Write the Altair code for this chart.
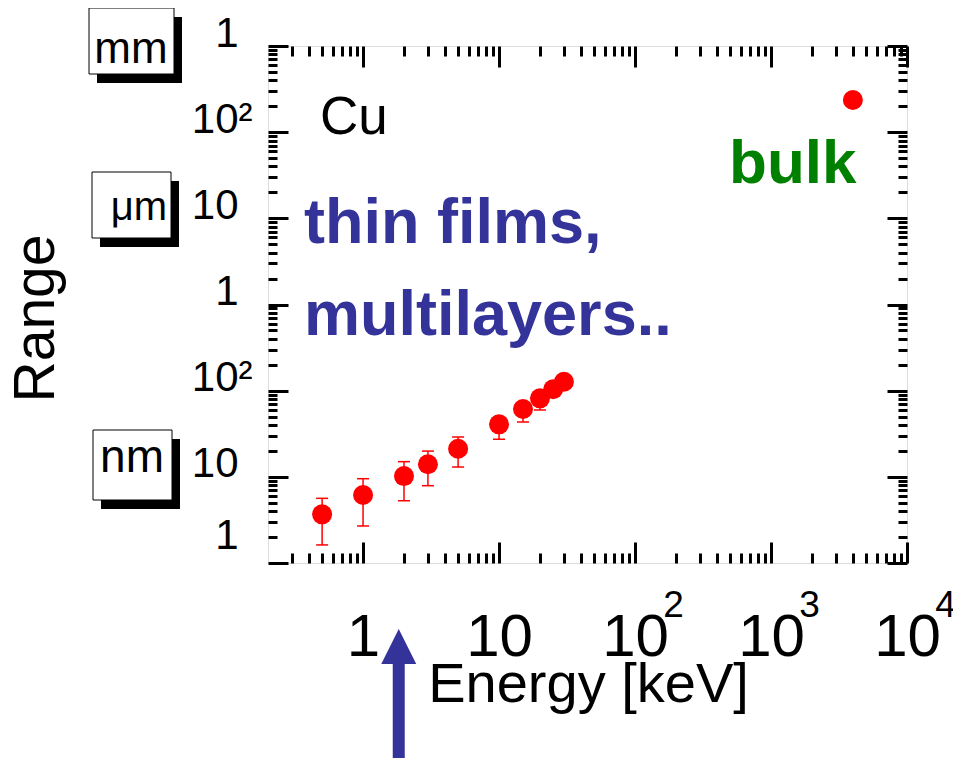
import altair as alt
import pandas as pd

# ---------------- data ----------------
energy = [0.5, 1, 2, 3, 5, 10, 15, 20, 25, 30]          # keV
rng = [3.67, 6.15, 10.2, 14.0, 21.2, 40.7, 61.2, 81.5, 104, 127]   # nm
rng_lo = [1.62, 2.69, 5.28, 7.89, 13.0, 27.3, 43.3, 59.7, 88, 110]
rng_hi = [5.63, 9.51, 15.0, 19.9, 29.0, 48, 70, 95, 118, 140]

bulk_energy = [4000]
bulk_range = [236000]

x_major = [1, 10, 100, 1000, 10000]
x_base = ["1", "10", "10", "10", "10"]
x_exp = ["", "", "2", "3", "4"]

y_major = [1, 10, 100, 1000, 10000, 100000, 1000000]
y_labels = ["1", "10", "10\u00b2", "1", "10", "10\u00b2", "1"]

arrow_energy = [1.83]

FONT = "Liberation Sans"
BLUE = "#333399"
GREEN = "#008000"

x_minor = [round(d * m, 4) for d in [0.1, 1, 10, 100, 1000] for m in range(2, 10) if d * m >= 0.3]
y_minor = [d * m for d in [1, 10, 100, 1000, 10000, 100000] for m in range(2, 10)]

xs = alt.Scale(type="log", domain=[0.2, 10000], nice=False)
ys = alt.Scale(type="log", domain=[1, 1000000], nice=False)

df = pd.DataFrame({"energy": energy, "range": rng, "lo": rng_lo, "hi": rng_hi})
bulk_df = pd.DataFrame({"energy": bulk_energy, "range": bulk_range})


def tick_axis(orient, values, size):
    return alt.Axis(orient=orient, values=values, tickSize=alt.ExprRef(expr=f"-{size}"),
                    tickWidth=3, tickColor="black", labels=False, domain=False,
                    grid=False, title=None)


def lab_expr(values, labels):
    parts = " : ".join(f"datum.value == {v} ? '{l}'" for v, l in zip(values, labels))
    return parts + " : ''"


# error bars
rules = alt.Chart(df).mark_rule(color="red", strokeWidth=1.5).encode(
    x=alt.X("energy:Q", scale=xs, axis=tick_axis("bottom", x_minor, 10)),
    y=alt.Y("lo:Q", scale=ys, axis=tick_axis("left", y_minor, 9)),
    y2="hi:Q",
)
caps_lo = alt.Chart(df).mark_tick(orient="horizontal", size=12, thickness=1.5, color="red", opacity=1).encode(
    x=alt.X("energy:Q", scale=xs, axis=tick_axis("bottom", x_major, 21)),
    y=alt.Y("lo:Q", scale=ys, axis=tick_axis("left", y_major, 20)),
)
caps_hi = alt.Chart(df).mark_tick(orient="horizontal", size=12, thickness=1.5, color="red", opacity=1).encode(
    x=alt.X("energy:Q", scale=xs, axis=tick_axis("top", x_minor, 10)),
    y=alt.Y("hi:Q", scale=ys, axis=tick_axis("right", y_minor, 9)),
)
points = alt.Chart(df).mark_circle(size=400, color="red", opacity=1).encode(
    x=alt.X("energy:Q", scale=xs, axis=tick_axis("top", x_major, 21)),
    y=alt.Y("range:Q", scale=ys, axis=tick_axis("right", y_major, 20)),
)
bulk = alt.Chart(bulk_df).mark_circle(size=400, color="red", opacity=1).encode(
    x=alt.X("energy:Q", scale=xs, axis=alt.Axis(
        orient="bottom", values=x_major, labelExpr=lab_expr(x_major, x_base),
        ticks=False, domain=False, grid=False, labelFont=FONT, labelFontSize=60,
        labelColor="black", labelPadding=92, labelBaseline="alphabetic",
        labelFlush=False, labelOverlap=False,
        title="Energy [keV]", titleFont=FONT, titleFontSize=56, titleFontWeight="normal",
        titleColor="black", titleX=320, titleY=138, titleAlign="center",
        titleBaseline="alphabetic")),
    y=alt.Y("range:Q", scale=ys, axis=alt.Axis(
        orient="left", values=y_major, labelExpr=lab_expr(y_major, y_labels),
        ticks=False, domain=False, grid=False, labelFont=FONT, labelFontSize=42,
        labelColor="black", labelAlign="right", labelBaseline="alphabetic",
        labelPadding={"condition": {"test": "datum.value == 100 || datum.value == 100000", "value": 16}, "value": 30},
        labelOffset={"condition": {"test": "datum.value == 1", "value": -15}, "value": 0},
        labelFlush=False, labelOverlap=False,
        title="Range", titleFont=FONT, titleFontSize=57, titleFontWeight="normal",
        titleColor="black", titleAngle=270, titleX=-215, titleY=272, titleAlign="center",
        titleBaseline="alphabetic")),
)
exp_layer = alt.Chart(bulk_df).mark_circle(size=0, opacity=0).encode(
    x=alt.X("energy:Q", scale=xs, axis=alt.Axis(
        orient="bottom", values=x_major, labelExpr=lab_expr(x_major, x_exp),
        ticks=False, domain=False, grid=False, labelFont=FONT, labelFontSize=37,
        labelColor="black", labelPadding=53, labelBaseline="alphabetic", labelOffset=38,
        labelFlush=False, labelOverlap=False, title=None)),
    y=alt.Y("range:Q", scale=ys, axis=None),
)

# annotations
def note(text, x, y, size, color, weight="normal"):
    d = pd.DataFrame({"energy": [x], "range": [y], "t": [text]})
    return alt.Chart(d).mark_text(font=FONT, fontSize=size, color=color, fontWeight=weight,
                                  align="left", baseline="alphabetic").encode(
        x=alt.X("energy:Q", scale=xs, axis=None),
        y=alt.Y("range:Q", scale=ys, axis=None),
        text="t:N",
    )

notes = [
    note("Cu", 0.483, 95200, 53, "black"),
    note("thin films,", 0.368, 5170, 63, BLUE, "bold"),
    note("multilayers..", 0.368, 443, 63, BLUE, "bold"),
    note("bulk", 491, 25700, 62, GREEN, "bold"),
]

# unit boxes (outside the plot, left of the y labels)
dummy = pd.DataFrame({"a": [0]})
boxes = []
for label, (bx1, bx2, by1, by2), tx, ty, fs in [
    ("mm", (-179, -94, -38, 28), -137, 17, 44),
    ("\u03bcm", (-176, -97, 126, 192), -129, 174, 40),
    ("nm", (-175, -96, 384, 454), -136, 426, 46),
]:
    boxes.append(alt.Chart(dummy).mark_rect(color="black").encode(
        x=alt.value(bx1 + 8), x2=alt.value(bx2 + 8), y=alt.value(by1 + 9), y2=alt.value(by2 + 9)))
    boxes.append(alt.Chart(dummy).mark_rect(fill="white", stroke="black", strokeWidth=1).encode(
        x=alt.value(bx1), x2=alt.value(bx2), y=alt.value(by1), y2=alt.value(by2)))
    boxes.append(alt.Chart(dummy).mark_text(text=label, font=FONT, fontSize=fs, color="black",
                                            align="center", baseline="alphabetic").encode(
        x=alt.value(tx), y=alt.value(ty)))

# arrow below the x axis
arrow_df = pd.DataFrame({"energy": arrow_energy})
shaft = alt.Chart(arrow_df).mark_rule(color=BLUE, strokeWidth=12).encode(
    x=alt.X("energy:Q", scale=xs, axis=None), y=alt.value(612), y2=alt.value(740))
head = alt.Chart(arrow_df).mark_point(shape="M-1,1L0,-1L1,1Z", size=1225, filled=True,
                                      color=BLUE, opacity=1).encode(
    x=alt.X("energy:Q", scale=xs, axis=None), y=alt.value(600.5))

chart = alt.layer(rules, caps_lo, caps_hi, points, bulk, exp_layer, *notes, *boxes, shaft, head).resolve_axis(
    x="independent", y="independent"
).properties(
    width=639, height=517,
    padding={"left": 260, "top": 38, "right": 46, "bottom": 195},
    autosize=alt.AutoSizeParams(type="none"),
).configure_view(stroke="black", strokeWidth=3.5).configure(font=FONT)

chart.save("out.html", embed_options={"renderer": "svg", "actions": False})
